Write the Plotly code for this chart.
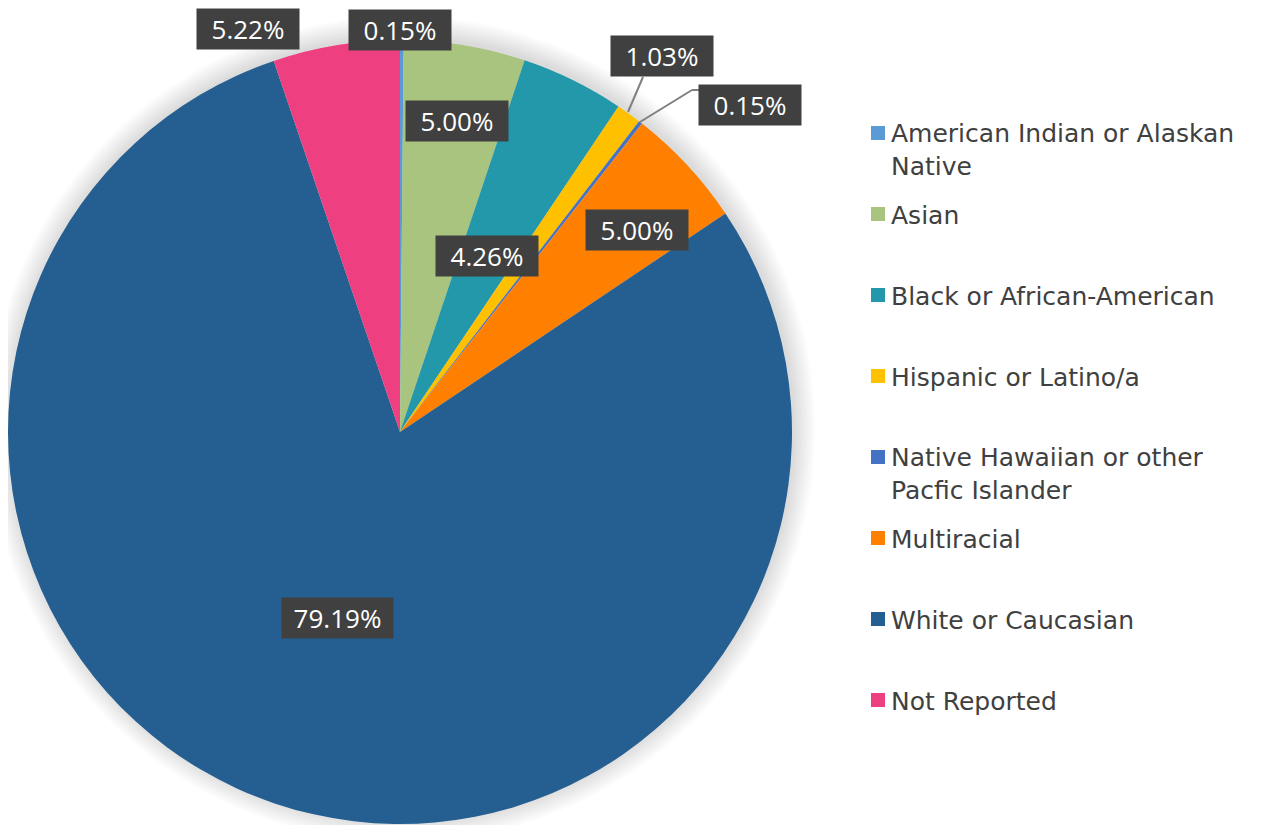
import plotly.graph_objects as go

# ---- data ----
categories = [
    "American Indian or Alaskan Native",
    "Asian",
    "Black or African-American",
    "Hispanic or Latino/a",
    "Native Hawaiian or other Pacfic Islander",
    "Multiracial",
    "White or Caucasian",
    "Not Reported",
]
legend_text = [
    "American Indian or Alaskan<br>Native",
    "Asian",
    "Black or African-American",
    "Hispanic or Latino/a",
    "Native Hawaiian or other<br>Pacfic Islander",
    "Multiracial",
    "White or Caucasian",
    "Not Reported",
]
values = [0.15, 5.00, 4.26, 1.03, 0.15, 5.00, 79.19, 5.22]
label_text = ["0.15%", "5.00%", "4.26%", "1.03%", "0.15%", "5.00%", "79.19%", "5.22%"]
colors = ["#5B9BD5", "#A9C47F", "#2398AA", "#FFC000", "#4472C4", "#FF8000", "#255E91", "#EE4081"]

# ---- layout constants (pixels in the screenshot; page body has an 8px margin) ----
W, H = 1267, 825
OFF = 8
CX, CY, R = 400, 432, 392
LABEL_FONT = "Open Sans"
LEGEND_FONT = "DejaVu Sans"

def px(x):
    return (x - OFF) / W

def py(y):
    return 1 - (y - OFF) / H

fig = go.Figure()
fig.add_trace(go.Pie(
    labels=categories,
    values=values,
    sort=False,
    direction="clockwise",
    rotation=0,
    marker=dict(colors=colors, line=dict(width=0)),
    textinfo="none",
    hoverinfo="label+percent",
    showlegend=False,
    domain=dict(x=[max(0, px(CX - R)), px(CX + R)], y=[py(CY + R), py(CY - R)]),
))

shapes = []
# soft shadow around the pie
for k in range(9):
    rr = R + 1 + k * 2.5
    shapes.append(dict(type="circle", xref="paper", yref="paper", layer="below",
                       x0=px(CX - rr + 2), x1=px(CX + rr + 2), y0=py(CY + rr - 3), y1=py(CY - rr - 3),
                       fillcolor="rgba(0,0,0,0.014)", line=dict(width=0)))

annotations = []
# data-label box centers (px)
label_pos = [(400, 30), (457, 121), (487, 256), (662, 56), (750, 105), (637, 230), (337, 618), (248, 29)]
for txt, (lx, ly) in zip(label_text, label_pos):
    annotations.append(dict(x=px(lx), y=py(ly), xref="paper", yref="paper", text=txt,
                            showarrow=False, xanchor="center", yanchor="middle",
                            width=(9 * len(txt) + 51), height=34, align="center", valign="middle",
                            font=dict(family=LABEL_FONT, size=26, color="white"),
                            bgcolor="#404040", borderpad=3))

# leader lines for the small slices
leaders = [
    [(628, 112), (643, 77)],
    [(640, 122), (692, 90), (703, 90)],
]
for pts in leaders:
    for (x0, y0), (x1, y1) in zip(pts[:-1], pts[1:]):
        shapes.append(dict(type="line", xref="paper", yref="paper",
                           x0=px(x0), y0=py(y0), x1=px(x1), y1=py(y1),
                           line=dict(color="#7F7F7F", width=2)))

# manual legend
LEG_Y0, LEG_STEP, SQ_X, SQ, LINE_H = 133, 81, 871, 14, 31
for i, (name, col) in enumerate(zip(legend_text, colors)):
    yc = LEG_Y0 + i * LEG_STEP
    shapes.append(dict(type="rect", xref="paper", yref="paper",
                       x0=px(SQ_X), x1=px(SQ_X + SQ), y0=py(yc + SQ / 2), y1=py(yc - SQ / 2),
                       fillcolor=col, line=dict(width=0)))
    nlines = name.count("<br>") + 1
    annotations.append(dict(x=px(SQ_X + SQ + 4), y=py(yc + (nlines - 1) * LINE_H / 2 + 1),
                            xref="paper", yref="paper",
                            text=name, showarrow=False, xanchor="left", yanchor="middle", align="left",
                            font=dict(family=LEGEND_FONT, size=25, color="#404040")))

fig.update_layout(
    width=W, height=H,
    margin=dict(l=0, r=0, t=0, b=0),
    paper_bgcolor="white",
    plot_bgcolor="white",
    shapes=shapes,
    annotations=annotations,
)

fig.write_html("out.html")
